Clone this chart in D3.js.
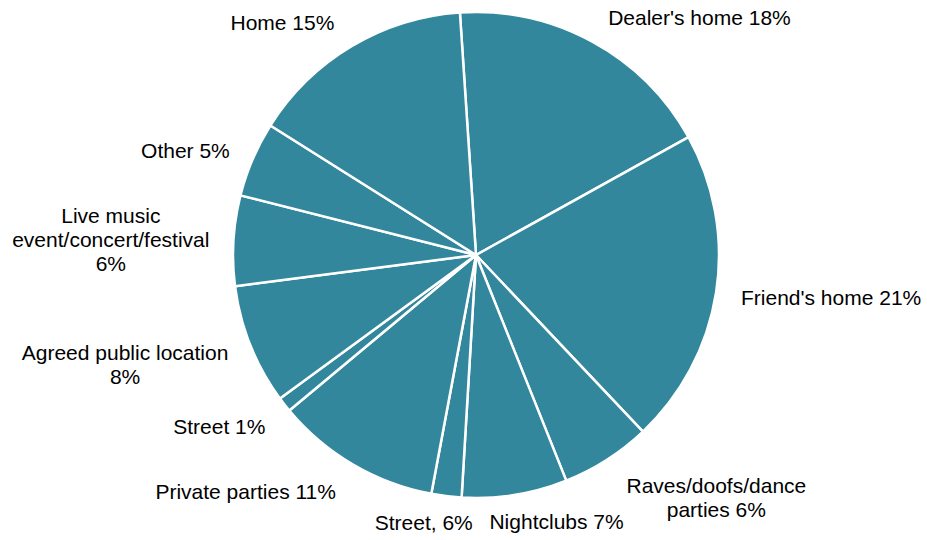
<!DOCTYPE html>
<html>
<head>
<meta charset="utf-8">
<script src="https://cdn.jsdelivr.net/npm/d3@7/dist/d3.min.js"></script>
<style>
  html, body { margin: 0; padding: 0; background: #ffffff; }
  svg { display: block; }
  .lbl { font-family: "Liberation Sans", Arial, sans-serif; font-size: 21px; fill: #000000; }
</style>
</head>
<body>
<svg id="chart" width="927" height="540"></svg>
<script>
// Where purchases took place, share of respondents (clockwise from the top)
const categories = [
  "Dealer's home", "Friend's home", "Raves/doofs/dance parties", "Nightclubs",
  "Street,", "Private parties", "Street", "Agreed public location",
  "Live music event/concert/festival", "Other", "Home"
];
const shares = [18, 21, 6, 7, 2, 11, 1, 8, 6, 5, 15];
// Label text as printed beside each slice (one entry per line)
const labelLines = [
  ["Dealer's home 18%"],
  ["Friend's home 21%"],
  ["Raves/doofs/dance", "parties 6%"],
  ["Nightclubs 7%"],
  ["Street, 6%"],
  ["Private parties 11%"],
  ["Street 1%"],
  ["Agreed public location", "8%"],
  ["Live music", "event/concert/festival", "6%"],
  ["Other 5%"],
  ["Home 15%"]
];
// Small hand adjustments of label placement (px)
const labelNudge = [
  [13, 0], [11, 0], [12, 2], [18, 1], [-9, 0], [-10, 3],
  [-8, 1], [-9, -4], [-10, 4], [-10, 6], [-10, 0]
];

const width = 927, height = 540;
const cx = 476, cy = 255, radius = 243;
const fillColor = "#32879d";
const startDeg = -3.8;

const svg = d3.select("#chart");
const g = svg.append("g").attr("transform", `translate(${cx},${cy})`);

const slices = shares.map((v, i) => ({ name: categories[i], value: v, i }));

const pie = d3.pie()
  .value(d => d.value)
  .sort(null)
  .startAngle(startDeg * Math.PI / 180)
  .endAngle(startDeg * Math.PI / 180 + 2 * Math.PI);

const arc = d3.arc().innerRadius(0).outerRadius(radius);
const arcs = pie(slices);

g.selectAll("path.slice")
  .data(arcs)
  .join("path")
  .attr("class", "slice")
  .attr("d", arc)
  .attr("fill", fillColor)
  .attr("stroke", "#ffffff")
  .attr("stroke-width", 2.5)
  .attr("stroke-linejoin", "round");

// Labels sit just outside the rim, pushed away from the pie along the slice's mid-angle
const gap = 14, lineH = 24;
const clamp = v => Math.max(-1, Math.min(1, v));

arcs.forEach((a, k) => {
  const mid = (a.startAngle + a.endAngle) / 2;
  const ux = Math.sin(mid), uy = -Math.cos(mid);
  const lines = labelLines[k];
  const t = g.append("text").attr("class", "lbl").attr("text-anchor", "middle");
  lines.forEach((s, j) => t.append("tspan").attr("x", 0).attr("y", j * lineH).text(s));
  const bb = t.node().getBBox();
  const hw = bb.width / 2;
  const hh = lines.length * lineH / 2;
  const px = (radius + gap) * ux, py = (radius + gap) * uy;
  const bx = px + hw * clamp(2 * ux) + labelNudge[k][0];
  const by = py + hh * clamp(2 * uy) + labelNudge[k][1];
  const firstBase = by - (lines.length - 1) * lineH / 2 + 7.5;
  t.attr("transform", `translate(${bx},${firstBase})`);
});
</script>
</body>
</html>
